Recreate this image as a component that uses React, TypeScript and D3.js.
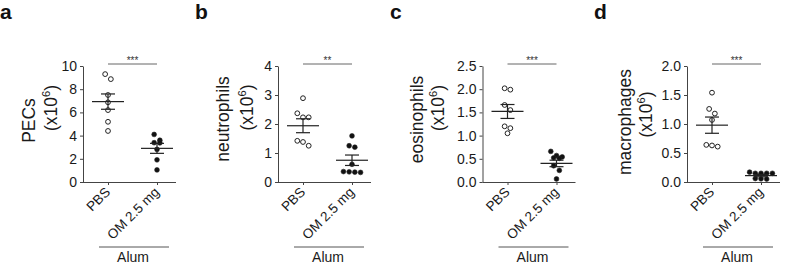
import React, { useEffect, useRef } from "react";
import * as d3 from "d3";

// ---------- data ----------
const categories = ["PBS", "OM 2.5 mg"];
const groupLabel = "Alum";
const panelLetters = ["a", "b", "c", "d"];
const yLabels = ["PECs", "neutrophils", "eosinophils", "macrophages"];
const yMax = [10, 4, 2.5, 2];
const yTickCount = [5, 4, 5, 4];
const yTickFormat = ["d", "d", ".1f", ".1f"];
const significance = ["***", "**", "***", "***"];

const pecsPBS = [9.3, 8.87, 7.5, 6.87, 6.2, 5.19, 4.4];
const pecsOM = [4.1, 3.6, 3.39, 3.37, 2.81, 1.91, 1.04];
const neutroPBS = [2.89, 2.37, 2.23, 2.23, 1.42, 1.38, 1.25];
const neutroOM = [1.59, 1.25, 1.2, 0.61, 0.36, 0.35, 0.34, 0.33];
const eosinoPBS = [2.02, 1.99, 1.66, 1.55, 1.2, 1.16, 1.05];
const eosinoOM = [0.66, 0.57, 0.54, 0.52, 0.51, 0.35, 0.25, 0.065];
const macroPBS = [1.54, 1.26, 1.18, 1.07, 0.64, 0.63, 0.61];
const macroOM = [0.17, 0.15, 0.15, 0.15, 0.15, 0.06, 0.055, 0.05];

// mean and SEM [PBS, OM]
const pecsMean = [6.93, 2.9];
const pecsSem = [0.66, 0.43];
const neutroMean = [1.94, 0.75];
const neutroSem = [0.24, 0.18];
const eosinoMean = [1.52, 0.4];
const eosinoSem = [0.15, 0.07];
const macroMean = [0.98, 0.11];
const macroSem = [0.14, 0.02];

const seriesByPanel = [
  [pecsPBS, pecsOM],
  [neutroPBS, neutroOM],
  [eosinoPBS, eosinoOM],
  [macroPBS, macroOM],
];
const meanByPanel = [pecsMean, neutroMean, eosinoMean, macroMean];
const semByPanel = [pecsSem, neutroSem, eosinoSem, macroSem];

// ---------- layout ----------
const W = 787;
const H = 264;
const Y_BOTTOM = 182;
const Y_TOP = 66;
const AXIS_LEN = 93;
const CAT_START = 25;
const CAT_END = 74;
const axisXs = [83, 278, 482.5, 687];
const letterXs = [0, 195, 390, 594];
const label1Off = [-48, -49, -60, -56];
const label2Off = [-26, -25, -39, -35];
const label1Y = [120.5, 119, 119.5, 122];
const label2Y = [108, 107.5, 108, 114.5];
const FONT = "Arial, 'Liberation Sans', Helvetica, sans-serif";
const R = 2.4;

function swarmOffsets(vals: number[], y: (v: number) => number) {
  const idx = vals.map((_, i) => i).sort((a, b) => vals[b] - vals[a]);
  const offsets = new Array(vals.length).fill(0);
  const rows: number[][] = [];
  let cur: number[] = [];
  let startY = 0;
  idx.forEach((i) => {
    const py = y(vals[i]);
    if (cur.length === 0 || py - startY > 6.2) {
      if (cur.length) rows.push(cur);
      cur = [i];
      startY = py;
    } else cur.push(i);
  });
  if (cur.length) rows.push(cur);
  const sp = 5.7;
  rows.forEach((row) => {
    row.forEach((i, k) => {
      offsets[i] = (k - (row.length - 1) / 2) * sp;
    });
  });
  return offsets;
}

function Panel({ p }: { p: number }) {
  const yAxisRef = useRef<SVGGElement>(null);
  const xAxisRef = useRef<SVGGElement>(null);
  const ax = axisXs[p];
  const y = d3.scaleLinear().domain([0, yMax[p]]).range([Y_BOTTOM, Y_TOP]);
  const x = d3
    .scalePoint<string>()
    .domain(categories)
    .range([ax + CAT_START, ax + CAT_END]);

  useEffect(() => {
    const g = d3.select(yAxisRef.current!);
    g.call(
      d3
        .axisLeft(y)
        .ticks(yTickCount[p])
        .tickFormat(d3.format(yTickFormat[p]) as any)
        .tickSize(3)
        .tickSizeOuter(0)
        .tickPadding(3)
    );
    g.selectAll("path,line").attr("stroke", "#444").attr("stroke-width", 1);
    g.selectAll("text")
      .attr("font-size", 14)
      .attr("font-family", FONT)
      .attr("fill", "#1a1a1a");
    const gx = d3.select(xAxisRef.current!);
    gx.call(d3.axisBottom(x).tickSize(3).tickFormat(() => ""));
    gx.select(".domain").remove();
    gx.selectAll("line").attr("stroke", "#444");
  }, [p]);

  const series = seriesByPanel[p];
  const mean = meanByPanel[p];
  const sem = semByPanel[p];
  const x0 = x(categories[0])!;
  const x1 = x(categories[1])!;
  const sigY = Y_TOP - 2;

  return (
    <g>
      <text
        x={letterXs[p]}
        y={19}
        fontSize={21}
        fontWeight="bold"
        fontFamily={FONT}
        fill="#111"
      >
        {panelLetters[p]}
      </text>
      <g ref={yAxisRef} transform={`translate(${ax},0)`} />
      <line x1={ax} x2={ax + AXIS_LEN} y1={Y_BOTTOM + 0.5} y2={Y_BOTTOM + 0.5} stroke="#444" />
      <g ref={xAxisRef} transform={`translate(0,${Y_BOTTOM})`} />
      {/* y label */}
      <text
        transform={`translate(${ax + label1Off[p]},${label1Y[p]}) rotate(-90)`}
        textAnchor="middle"
        fontSize={17.5}
        fontFamily={FONT}
        fill="#1a1a1a"
      >
        {yLabels[p]}
      </text>
      <text
        transform={`translate(${ax + label2Off[p]},${label2Y[p]}) rotate(-90)`}
        textAnchor="middle"
        fontSize={17.5}
        fontFamily={FONT}
        fill="#1a1a1a"
      >
        (x10
        <tspan fontSize={11} dy={-7}>
          6
        </tspan>
        <tspan dy={7}>)</tspan>
      </text>
      {/* x labels */}
      {categories.map((c) => (
        <text
          key={c}
          transform={`translate(${x(c)! + 3},${Y_BOTTOM + 11}) rotate(-45)`}
          textAnchor="end"
          fontSize={13.5}
          fontFamily={FONT}
          fill="#1a1a1a"
        >
          {c}
        </text>
      ))}
      {/* group label */}
      <line
        x1={ax + 16}
        x2={ax + 86}
        y1={247}
        y2={247}
        stroke="#555"
      />
      <text
        x={ax + 50}
        y={262}
        textAnchor="middle"
        fontSize={14}
        fontFamily={FONT}
        fill="#1a1a1a"
      >
        {groupLabel}
      </text>
      {/* significance */}
      <line x1={x0} x2={x1} y1={sigY} y2={sigY} stroke="#666" />
      <text
        x={(x0 + x1) / 2}
        y={sigY - 0.5}
        textAnchor="middle"
        fontSize={10}
        fontFamily={FONT}
        fill="#333"
      >
        {significance[p]}
      </text>
      {/* points */}
      {series.map((vals, si) => {
        const cx = x(categories[si])!;
        const offs = swarmOffsets(vals, y);
        return (
          <g key={si}>
            {vals.map((v, i) => (
              <circle
                key={i}
                cx={cx + offs[i]}
                cy={y(v)}
                r={R}
                fill={si === 0 ? "#fff" : "#111"}
                stroke="#222"
                strokeWidth={si === 0 ? 1 : 0.6}
              />
            ))}
          </g>
        );
      })}
      {/* mean ± SEM */}
      {categories.map((c, si) => {
        const cx = x(c)!;
        return (
          <g key={c} stroke="#222" strokeWidth={1.2}>
            <line x1={cx - 16} x2={cx + 16} y1={y(mean[si])} y2={y(mean[si])} />
            <line x1={cx - 7} x2={cx + 7} y1={y(mean[si] + sem[si])} y2={y(mean[si] + sem[si])} />
            <line x1={cx - 7} x2={cx + 7} y1={y(mean[si] - sem[si])} y2={y(mean[si] - sem[si])} />
            <line x1={cx} x2={cx} y1={y(mean[si] + sem[si])} y2={y(mean[si] - sem[si])} />
          </g>
        );
      })}
    </g>
  );
}

export default function App() {
  return (
    <svg
      width={W}
      height={H}
      style={{ position: "absolute", left: 0, top: 0, background: "#fff" }}
    >
      <rect width={W} height={H} fill="#fff" />
      {panelLetters.map((_, p) => (
        <Panel key={p} p={p} />
      ))}
    </svg>
  );
}
